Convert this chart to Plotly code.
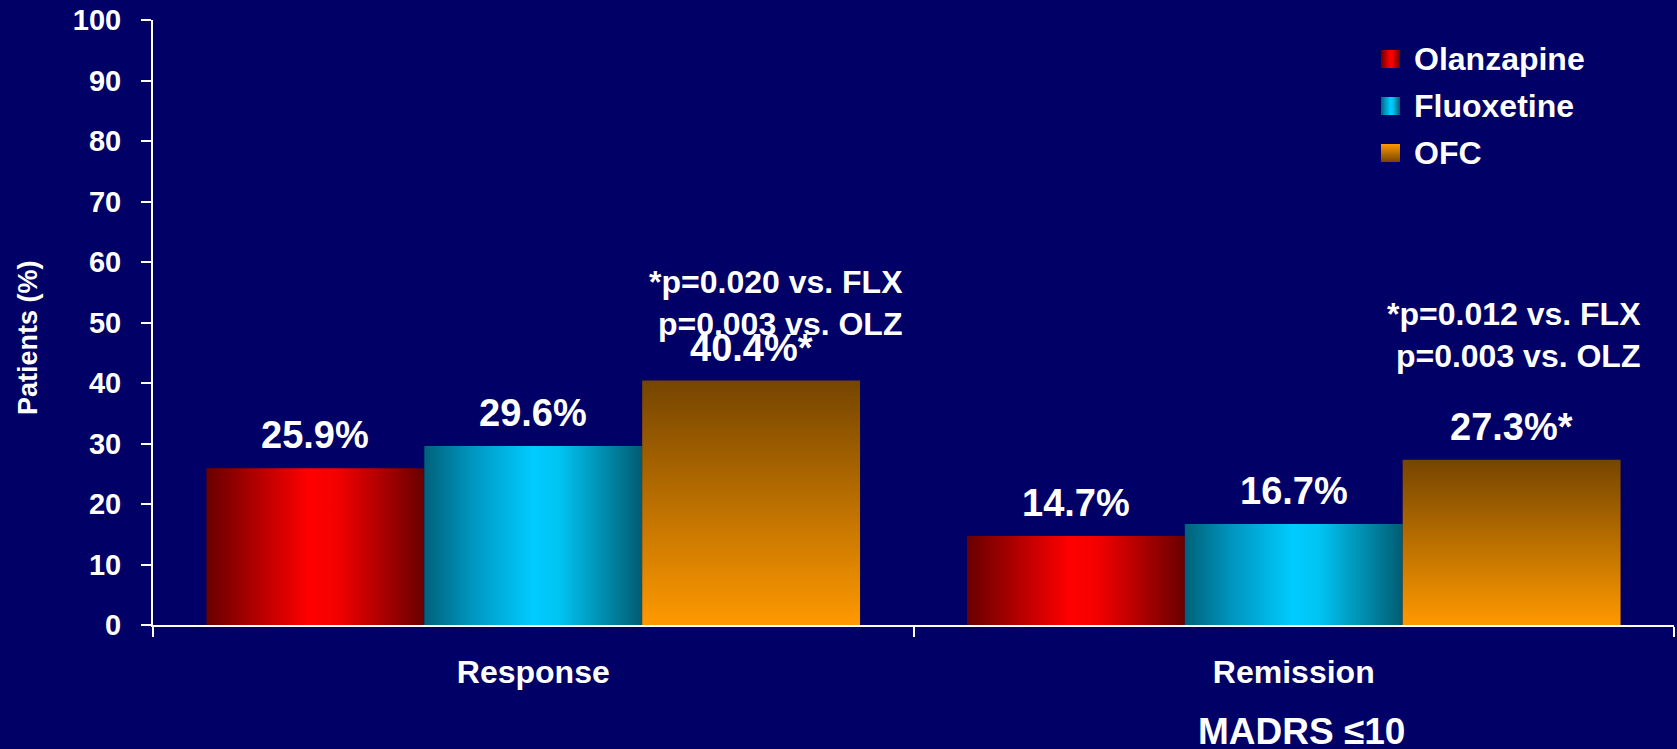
import plotly.graph_objects as go

# ---- data -------------------------------------------------------------
categories = ["Response", "Remission"]
series_names = ["Olanzapine", "Fluoxetine", "OFC"]
olanzapine = [25.9, 14.7]
fluoxetine = [29.6, 16.7]
ofc = [40.4, 27.3]
label_suffix = {"Olanzapine": ["", ""], "Fluoxetine": ["", ""], "OFC": ["*", "*"]}
p_notes = [
    "*p=0.020 vs. FLX<br> p=0.003 vs. OLZ",
    "*p=0.012 vs. FLX<br> p=0.003 vs. OLZ",
]
y_ticks = list(range(0, 101, 10))
y_title = "Patients (%)"
footnote = "MADRS ≤10"

# ---- styling ----------------------------------------------------------
FONT = "Liberation Sans, Arial, sans-serif"
BG = "#000066"
WHITE = "#ffffff"
RED = [[0, "#680000"], [0.2, "#a80000"], [0.47, "#ff0000"], [0.6, "#f40000"], [1, "#680000"]]
CYAN = [[0, "#00627a"], [0.22, "#0096c0"], [0.5, "#00ccff"], [0.62, "#00c4f2"], [1, "#005c72"]]
ORANGE_UP = [[0, "#ff9900"], [1, "#754500"]]      # bottom -> top on a normal y axis
ORANGE_DOWN = [[0, "#754500"], [1, "#ff9900"]]    # top -> bottom on a reversed y axis

series = [
    ("Olanzapine", olanzapine, RED, "horizontal"),
    ("Fluoxetine", fluoxetine, CYAN, "horizontal"),
    ("OFC", ofc, ORANGE_UP, "vertical"),
]
legend_fill = {"Olanzapine": (RED, "horizontal"),
               "Fluoxetine": (CYAN, "horizontal"),
               "OFC": (ORANGE_DOWN, "vertical")}

BAR_W = 0.2865          # width of one bar in category units
W, H = 1677, 749
M_L, M_R, M_T, M_B = 153, 3, 20, 124
PLOT_W = W - M_L - M_R
PLOT_H = H - M_T - M_B

fig = go.Figure()

# gradient-filled bars: each bar is a closed rectangle on the data axes
annotations = []
for k, (name, vals, cscale, orient) in enumerate(series):
    offset = (k - 1) * BAR_W
    for i, v in enumerate(vals):
        xc = i + offset
        x0, x1 = xc - BAR_W / 2, xc + BAR_W / 2
        fig.add_trace(go.Scatter(
            x=[x0, x1, x1, x0, x0], y=[0, 0, v, v, 0],
            mode="lines", line=dict(width=0), fill="toself",
            fillgradient=dict(type=orient, colorscale=cscale),
            name=name, showlegend=False,
            hovertemplate=f"{name}<br>{categories[i]}: {v}%<extra></extra>",
        ))
        annotations.append(dict(
            x=xc, y=v, xref="x", yref="y", xanchor="center", yanchor="bottom",
            yshift=10, showarrow=False,
            text=f"{v}%{label_suffix[name][i]}",
            font=dict(family=FONT, size=38, color=WHITE, weight="bold"),
        ))

# significance notes above the OFC bars
note_y = [60.0, 54.7]
note_shift = [25, 2]
for i, note in enumerate(p_notes):
    annotations.append(dict(
        x=i + BAR_W, y=note_y[i], xref="x", yref="y",
        xanchor="center", yanchor="top", align="left",
        xshift=note_shift[i], showarrow=False, text=note,
        font=dict(family=FONT, size=32, color=WHITE, weight="bold"),
    ))

# y-axis title, placed as a rotated label left of the tick labels
annotations.append(dict(
    x=-0.0822, y=0.476, xref="paper", yref="paper",
    xanchor="center", yanchor="middle", textangle=-90, showarrow=False,
    text=y_title,
    font=dict(family=FONT, size=27, color=WHITE, weight="bold"),
))

# footnote under the Remission category
annotations.append(dict(
    x=1, y=-0.139, xref="x", yref="paper", xanchor="center", yanchor="top",
    xshift=8, showarrow=False, text=footnote,
    font=dict(family=FONT, size=37, color=WHITE, weight="bold"),
))

# legend drawn on an overlay axis pair measured in pixels from the plot's top-left
LEG_X, LEG_SW, LEG_SH, LEG_ROW0, LEG_DY, LEG_TXT = 1228, 19, 18, 39, 47, 1259
for k, name in enumerate(series_names):
    cy = LEG_ROW0 + k * LEG_DY
    xa, xb = LEG_X, LEG_X + LEG_SW
    ya, yb = cy - LEG_SH / 2, cy + LEG_SH / 2
    cscale, orient = legend_fill[name]
    fig.add_trace(go.Scatter(
        x=[xa, xb, xb, xa, xa], y=[ya, ya, yb, yb, ya],
        xaxis="x2", yaxis="y2", mode="lines", line=dict(width=0),
        fill="toself", fillgradient=dict(type=orient, colorscale=cscale),
        showlegend=False, hoverinfo="skip",
    ))
    annotations.append(dict(
        x=LEG_TXT, y=cy, xref="x2", yref="y2", xanchor="left", yanchor="middle",
        showarrow=False, text=name,
        font=dict(family=FONT, size=32, color=WHITE, weight="bold"),
    ))

fig.update_layout(
    width=W, height=H,
    margin=dict(l=M_L, r=M_R, t=M_T, b=M_B, pad=0),
    paper_bgcolor=BG, plot_bgcolor=BG,
    showlegend=False,
    font=dict(family=FONT, color=WHITE),
    annotations=annotations,
    xaxis=dict(
        range=[-0.5, 1.5], tickmode="array", tickvals=[0, 1], ticktext=categories,
        ticks="", showgrid=False, zeroline=False,
        showline=True, linecolor=WHITE, linewidth=2,
        tickfont=dict(family=FONT, size=32, color=WHITE, weight="bold"),
        ticklabelstandoff=18,
        minor=dict(tickmode="array", tickvals=[-0.5, 0.5, 1.5], ticks="outside",
                   ticklen=10, tickwidth=2, tickcolor=WHITE, showgrid=False),
    ),
    yaxis=dict(
        range=[0, 100], tickmode="array", tickvals=y_ticks,
        ticks="outside", ticklen=10, tickwidth=2, tickcolor=WHITE,
        showgrid=False, zeroline=False,
        showline=True, linecolor=WHITE, linewidth=2,
        tickfont=dict(family=FONT, size=29, color=WHITE, weight="bold"),
        ticklabelstandoff=14,
    ),
    xaxis2=dict(overlaying="x", range=[0, PLOT_W], visible=False),
    yaxis2=dict(overlaying="y", range=[PLOT_H, 0], visible=False),
)

fig.write_html("out.html")
